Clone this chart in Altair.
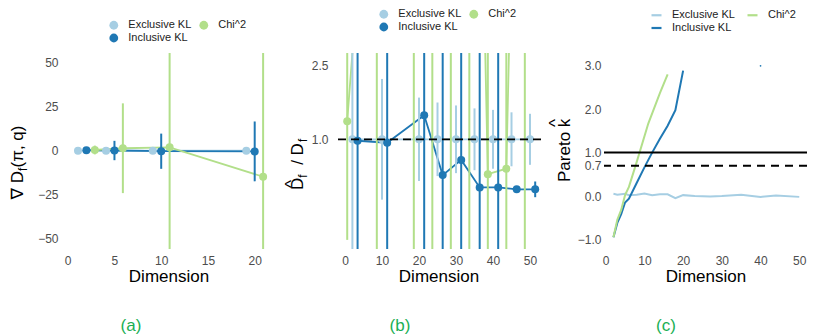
import altair as alt
import pandas as pd

FONT = "Liberation Sans, DejaVu Sans, sans-serif"
GREEN_LABEL = "#1aaf54"

series_names = ["Exclusive KL", "Inclusive KL", "Chi^2"]
legend_order = ["Exclusive KL", "Inclusive KL", "Chi^2"]
legend_colors = ["#a6cee3", "#1f78b4", "#b2df8a"]
line_order = ["Chi^2", "Inclusive KL", "Exclusive KL"]
line_colors = ["#b2df8a", "#1f78b4", "#a6cee3"]

# ---------------- panel (a): gradient of divergence ----------------
dims_a = [2, 5, 10, 20]
mean_a = {
    "Exclusive KL": [0.0, 0.0, 0.0, 0.0],
    "Inclusive KL": [0.3, 0.1, -0.3, -0.4],
    "Chi^2": [0.4, 1.4, 1.9, -14.8],
}
err_a = {
    "Exclusive KL": [0.4, 0.6, 0.8, 1.0],
    "Inclusive KL": [1.5, 5.5, 10.0, 17.0],
    "Chi^2": [2.5, 25.5, 120.0, 150.0],
}
dodge_a = {"Exclusive KL": -0.9, "Inclusive KL": 0.0, "Chi^2": 0.9}

# ---------------- panel (b): ratio of divergence estimates ----------------
dims_b = [2, 10, 20, 25, 30, 35, 40, 45, 50]
mean_b = {
    "Exclusive KL": [1.0, 1.0, 1.0, 1.0, 1.0, 1.0, 1.0, 1.0, 1.0],
    "Inclusive KL": [0.97, 0.93, 1.49, 0.27, 0.58, 0.02, 0.02, -0.02, -0.02],
    "Chi^2": [1.37, 9.3, 12.0, 14.0, 16.0, 18.0, 0.29, 0.40, 17.0],
}
err_b = {
    "Exclusive KL": [3.0, 1.23, 0.85, 0.75, 0.69, 0.63, 0.60, 0.55, 0.52],
    "Inclusive KL": [5.0, 5.0, 5.0, 5.0, 5.0, 5.0, 5.0, 0.05, 0.16],
    "Chi^2": [2.42, 30.0, 30.0, 30.0, 30.0, 30.0, 5.0, 5.0, 30.0],
}
dodge_b = {"Exclusive KL": 0.0, "Inclusive KL": 1.4, "Chi^2": -1.4}
ref_b = [1.0]

# ---------------- panel (c): Pareto k ----------------
dims_c_excl = [2, 3, 5, 6, 8, 10, 12, 14, 16, 18, 20, 23, 27, 30, 35, 40, 44, 50]
k_c_excl = [0.05, 0.03, 0.05, 0.02, 0.03, 0.06, 0.02, 0.04, 0.04, -0.05, 0.02,
            0.0, -0.01, 0.0, 0.03, -0.02, 0.01, -0.02]
dims_c_incl = [2, 3, 4, 5, 6, 8, 10, 12, 14, 16, 18, 20]
k_c_incl = [-0.95, -0.62, -0.42, -0.15, -0.06, 0.30, 0.66, 1.0, 1.32, 1.62, 1.98, 2.89]
dims_c_chi = [2, 3, 4, 5, 6, 8, 11, 14, 16]
k_c_chi = [-0.95, -0.55, -0.32, 0.02, 0.21, 0.78, 1.67, 2.37, 2.80]
dims_c_incl_dot = [40]
k_c_incl_dot = [3.0]
ref_c_solid = [1.0]
ref_c_dashed = [0.7]


def dodge_frame(dims, means, errs, dodge):
    rows = []
    for s in series_names:
        for d, m, e in zip(dims, means[s], errs[s]):
            rows.append({"series": s, "grp": s, "x": d + dodge[s], "mean": m,
                         "lo": m - e, "hi": m + e})
    return pd.DataFrame(rows)


FILL_SCALE = alt.Scale(domain=legend_order, range=legend_colors)
STROKE_SCALE = alt.Scale(domain=line_order, range=line_colors)


def make_legend(lx, ly, stroke=False):
    kw = dict(title=None, orient="none", legendX=lx, legendY=ly, columns=2,
              labelFont=FONT, labelFontSize=11, labelColor="#222222",
              labelOffset=9, rowPadding=1, padding=0, symbolOpacity=1)
    if stroke:
        kw.update(symbolType="stroke", symbolSize=100, symbolStrokeWidth=2.2,
                  columnPadding=8)
    else:
        kw.update(symbolType="circle", symbolSize=78, symbolStrokeWidth=0,
                  columnPadding=7)
    return alt.Legend(**kw)


def text_piece(txt, x, y, align, size=17, color="black", angle=270, baseline="alphabetic"):
    return alt.Chart(pd.DataFrame({"t": [txt]})).mark_text(
        angle=angle, align=align, baseline=baseline, font=FONT,
        fontSize=size, color=color).encode(
        text="t:N", x=alt.value(x), y=alt.value(y))


def x_axis(values):
    return alt.Axis(values=values, title="Dimension", labelPadding=6,
                    titlePadding=2, labelOverlap=False)


def y_axis(values, fmt, pad):
    return alt.Axis(values=values, format=fmt, title=None, labelPadding=pad,
                    labelOverlap=False)


H = 196


def dodge_panel(df, xdom, ydom, xvals, yvals, yfmt, ypad, w, legend, hlines, extra):
    xs = alt.Scale(domain=xdom, nice=False, zero=False)
    ys = alt.Scale(domain=ydom, nice=False, zero=False)
    x = alt.X("x:Q", scale=xs, axis=x_axis(xvals))
    yax = y_axis(yvals, yfmt, ypad)
    base = alt.Chart(df)
    lines = base.mark_line(strokeWidth=1.8, clip=True).encode(
        x=x, y=alt.Y("mean:Q", scale=ys, axis=yax),
        stroke=alt.Stroke("grp:N", scale=STROKE_SCALE, legend=None), detail="grp:N")
    bars = base.mark_rule(strokeWidth=2, clip=True).encode(
        x=x, y=alt.Y("lo:Q", scale=ys, axis=yax), y2="hi:Q",
        stroke=alt.Stroke("grp:N", scale=STROKE_SCALE, legend=None))
    pts = base.mark_point(filled=True, size=64, opacity=1, clip=True).encode(
        x=x, y=alt.Y("mean:Q", scale=ys, axis=yax),
        fill=alt.Fill("series:N", scale=FILL_SCALE, legend=legend))
    hl = [alt.Chart(pd.DataFrame({"y": vals})).mark_rule(
        color="black", strokeWidth=1.8, strokeDash=dash).encode(
        y=alt.Y("y:Q", scale=ys, axis=yax)) for vals, dash in hlines]
    return alt.layer(lines, bars, pts, *hl, *extra).properties(width=w, height=H)


# ---- (a)  plot area 64..273 px
df_a = dodge_frame(dims_a, mean_a, err_a, dodge_a)
title_a = [
    text_piece("\u2207 D", -41, 118, "right"),
    text_piece("f", -37, 118, "left", size=12),
    text_piece("(\u03c0, q)", -41, 114.5, "left"),
    text_piece("(a)", 67, 273, "center", size=17, color=GREEN_LABEL, angle=0,
               baseline="middle"),
]
panel_a = dodge_panel(df_a, [-0.396, 21.957], [-55.85, 55.5],
                      [0, 5, 10, 15, 20], [-50, -25, 0, 25, 50], "d", 6, 209,
                      make_legend(44.3, -33.5), [], title_a)

# ---- (b)  plot area 336..541 px
df_b = dodge_frame(dims_b, mean_b, err_b, dodge_b)
title_b = [
    text_piece("D", -33, 137, "left"),
    text_piece("^", -39.5, 130.9, "center"),
    text_piece("f", -29, 124.7, "left", size=12),
    text_piece("/", -33, 109.5, "center"),
    text_piece("D", -33, 102.5, "left"),
    text_piece("f", -29, 89, "left", size=12),
    text_piece("(b)", 64, 273, "center", size=17, color=GREEN_LABEL, angle=0,
               baseline="middle"),
]
panel_b = dodge_panel(df_b, [-2.432, 52.97], [-1.236, 2.759],
                      [0, 10, 20, 30, 40, 50], [1.0, 2.5], ".1f", 8, 205,
                      make_legend(42.3, -44.5), [(ref_b, [8, 5])], title_b)

# ---- (c)  plot area 604..807 px
rows_c = []
for d, v in zip(dims_c_excl, k_c_excl):
    rows_c.append({"series": "Exclusive KL", "dim": d, "k": v})
for d, v in zip(dims_c_incl, k_c_incl):
    rows_c.append({"series": "Inclusive KL", "dim": d, "k": v})
for d, v in zip(dims_c_chi, k_c_chi):
    rows_c.append({"series": "Chi^2", "dim": d, "k": v})
df_c = pd.DataFrame(rows_c)
df_c_dot = pd.DataFrame({"series": ["Inclusive KL"] * len(dims_c_incl_dot),
                         "dim": dims_c_incl_dot, "k": k_c_incl_dot})

xs_c = alt.Scale(domain=[-0.439, 52.0], nice=False, zero=False)
ys_c = alt.Scale(domain=[-1.221, 3.295], nice=False, zero=False)
xax_c = x_axis([0, 10, 20, 30, 40, 50])
yax_c = y_axis([-1.0, 0.0, 0.7, 1.0, 2.0, 3.0], ".1f", 3)
x_c = alt.X("dim:Q", scale=xs_c, axis=xax_c)
y_c = alt.Y("k:Q", scale=ys_c, axis=yax_c)
lines_c = alt.Chart(df_c).mark_line(strokeWidth=2, clip=True).encode(
    x=x_c, y=y_c,
    stroke=alt.Stroke("series:N", scale=FILL_SCALE,
                      legend=make_legend(46, -44.5, stroke=True)),
    detail="series:N")
dot_c = alt.Chart(df_c_dot).mark_point(filled=True, size=3, opacity=1).encode(
    x=x_c, y=y_c, fill=alt.value("#1f78b4"))
solid_c = alt.Chart(pd.DataFrame({"y": ref_c_solid})).mark_rule(
    color="black", strokeWidth=2).encode(y=alt.Y("y:Q", scale=ys_c, axis=yax_c))
dashed_c = alt.Chart(pd.DataFrame({"y": ref_c_dashed})).mark_rule(
    color="black", strokeWidth=2, strokeDash=[8, 6]).encode(
    y=alt.Y("y:Q", scale=ys_c, axis=yax_c))
title_c = [
    text_piece("Pareto k", -34, 129, "left"),
    text_piece("^", -43.4, 70, "center"),
    text_piece("(c)", 62, 273, "center", size=17, color=GREEN_LABEL, angle=0,
               baseline="middle"),
]
panel_c = alt.layer(lines_c, solid_c, dashed_c, dot_c, *title_c).properties(
    width=203, height=H)

chart = alt.hconcat(panel_a, panel_b, panel_c, spacing=63, bounds="flush").resolve_scale(
    stroke="independent", fill="independent", x="independent", y="independent"
).resolve_legend(stroke="independent", fill="independent").properties(
    autosize=alt.AutoSizeParams(type="none"),
    padding={"left": 56, "top": 45, "right": 743, "bottom": 283},
    background="white",
).configure_view(stroke=None).configure_axis(
    grid=False, domain=False, ticks=False, tickSize=0, labelOverlap=False,
    labelFont=FONT, labelFontSize=12, labelColor="#4d4d4d",
    titleFont=FONT, titleFontSize=17, titleFontWeight="normal", titleColor="black",
)

chart.save("out.html", embed_options={"renderer": "svg", "actions": False})
